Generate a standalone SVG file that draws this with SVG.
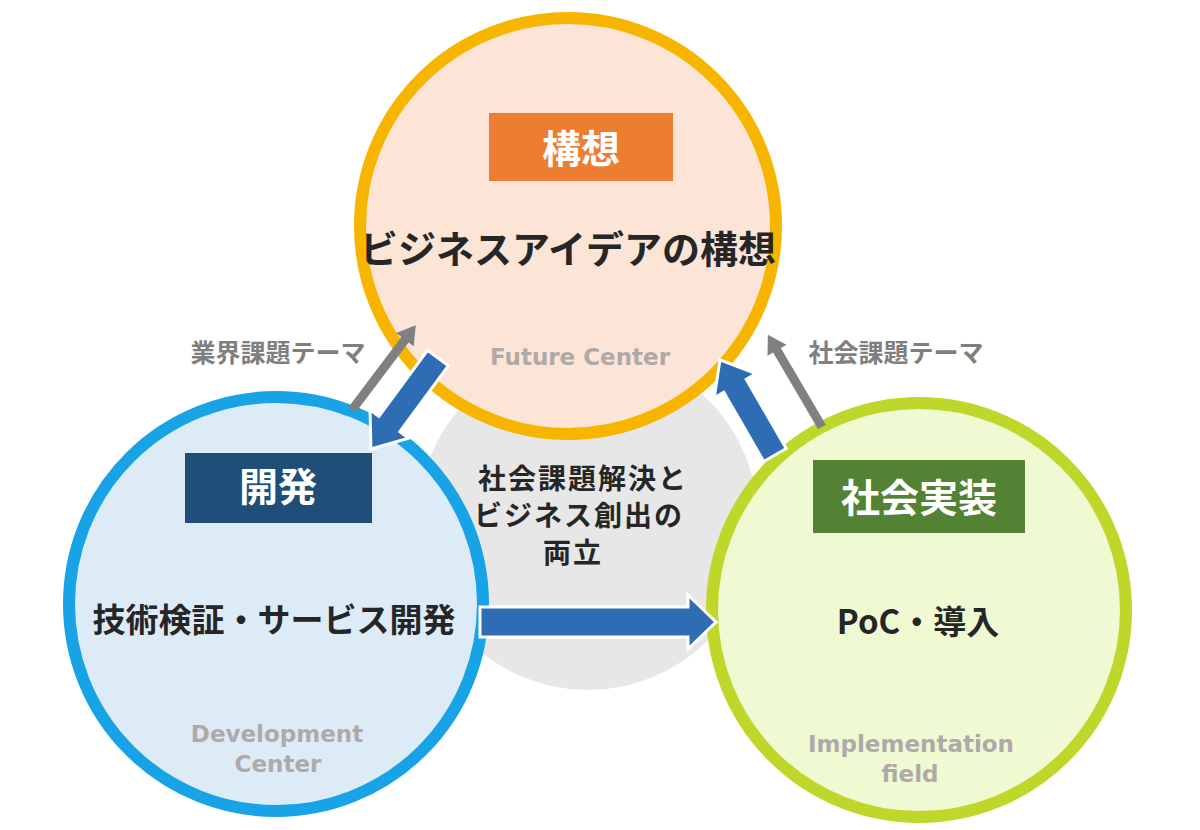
<svg xmlns="http://www.w3.org/2000/svg" width="1200" height="830" viewBox="0 0 1200 830">
<style>
.jp{font-family:"Noto Sans CJK JP","Noto Sans",sans-serif;font-weight:bold;text-anchor:middle}
.en{font-family:"DejaVu Sans","Liberation Sans",sans-serif;font-weight:bold;text-anchor:middle;fill:#B0A9A9;font-size:23px}
.main{fill:#262626;font-size:33px}
.title{fill:#262626;font-size:38px}
.hub{fill:#262626;font-size:28px;letter-spacing:2px}
.tag{fill:#FFFFFF;font-size:39px}
.theme{fill:#7F7F7F;font-size:25px}
.blue{fill:#2E6DB4;stroke:#FFFFFF;stroke-width:3;stroke-linejoin:miter}
.gray{fill:#808080}
</style>
<rect width="1200" height="830" fill="#FFFFFF"/>
<g id="center-hub">
<circle cx="588" cy="520" r="170" fill="#E7E7E7"/>
</g>
<g id="future-center">
<circle cx="568" cy="226" r="208" fill="#FCE4D6" stroke="#F7B500" stroke-width="12"/>
<rect x="489" y="113" width="184" height="68" fill="#ED7D31"/>
<text class="jp tag" x="581" y="163">構想</text>
<text class="jp title" x="568" y="263">ビジネスアイデアの構想</text>
<text class="en" x="580" y="365">Future Center</text>
</g>
<g id="development-center">
<circle cx="276" cy="604" r="207" fill="#DDEBF7" stroke="#17A3E6" stroke-width="12"/>
<rect x="185" y="453" width="187" height="70" fill="#1F4E79"/>
<text class="jp tag" x="278" y="501">開発</text>
<text class="jp main" x="274" y="632">技術検証・サービス開発</text>
<text class="en" x="277" y="742">Development</text>
<text class="en" x="278" y="772">Center</text>
</g>
<g id="implementation-field">
<circle cx="919" cy="610" r="207" fill="#F0FAD2" stroke="#BFD62A" stroke-width="12"/>
<rect x="813" y="460" width="212" height="73" fill="#548235"/>
<text class="jp tag" x="919" y="512">社会実装</text>
<text class="jp main" x="918" y="634">PoC・導入</text>
<text class="en" x="911" y="752">Implementation</text>
<text class="en" x="910" y="782">field</text>
</g>
<g id="hub-label">
<text class="jp hub" x="583" y="489">社会課題解決と</text>
<text class="jp hub" x="579" y="526">ビジネス創出の</text>
<text class="jp hub" x="573" y="563">両立</text>
</g>
<g id="connectors">
<polygon class="blue" transform="translate(438,358) rotate(126.4)" points="0,-13 82,-13 82,-24 113,0 82,24 82,13 0,13"/>
<polygon class="blue" transform="translate(775,455) rotate(-120)" points="0,-13 80,-13 80,-24 110,0 80,24 80,13 0,13"/>
<polygon class="blue" points="480,607 688,607 688,595 716,622 688,649 688,637 480,637"/>
<polygon class="gray" transform="translate(352,410) rotate(-53)" points="0,-4.5 88,-4.5 88,-11 106,0 88,11 88,4.5 0,4.5"/>
<polygon class="gray" transform="translate(822,427) rotate(-120.4)" points="0,-4.5 89,-4.5 89,-11 107,0 89,11 89,4.5 0,4.5"/>
<text class="jp theme" x="278" y="362">業界課題テーマ</text>
<text class="jp theme" x="896" y="362">社会課題テーマ</text>
</g>
</svg>
